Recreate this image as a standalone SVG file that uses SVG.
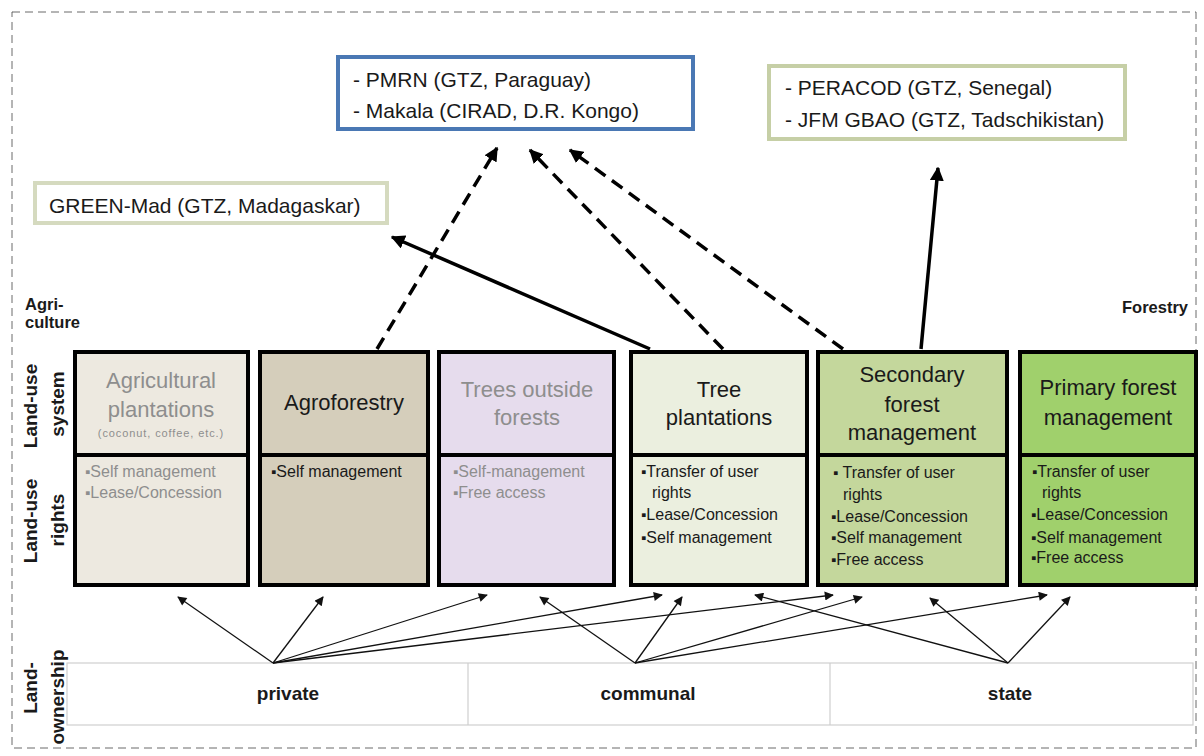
<svg xmlns="http://www.w3.org/2000/svg" width="1204" height="756" viewBox="0 0 1204 756">
<style>
text{font-family:"Liberation Sans",Arial,"DejaVu Sans",sans-serif;fill:#1a1a1a}
.box{stroke:#000;stroke-width:4}
.div{stroke:#000;stroke-width:4}
.ttl{font-size:22px;text-anchor:middle}
.gray{fill:#8e8e8e}
.r{font-size:16px}
.bl{font-size:15px}
.b{font-size:11px}
.proj{font-size:21px}
.lbl{font-size:19px;font-weight:bold;text-anchor:middle}
.sm{font-size:16.5px;font-weight:bold}
.own{font-size:19px;font-weight:bold;text-anchor:middle}
.thick{stroke:#000;stroke-width:3.5;fill:none}
.dash{stroke-dasharray:13 8}
.thin{stroke:#111;stroke-width:1.3;fill:none}
</style>
<defs>
<marker id="ah" viewBox="0 0 10 10" refX="9" refY="5" markerWidth="4" markerHeight="4" orient="auto" markerUnits="strokeWidth">
<path d="M0,0 L10,5 L0,10 z" fill="#000"/>
</marker>
<marker id="as" viewBox="0 0 10 10" refX="9" refY="5" markerWidth="9" markerHeight="7" orient="auto" markerUnits="strokeWidth">
<path d="M0,0 L10,5 L0,10 z" fill="#111"/>
</marker>
</defs>
<rect x="0" y="0" width="1204" height="756" fill="#fff"/>
<rect x="12" y="12" width="1184" height="736" fill="none" stroke="#6a6a6a" stroke-width="1" stroke-dasharray="8 5"/>

<g id="proj-pmrn">
<rect x="338" y="57" width="355" height="72" fill="#fff" stroke="#4a78b4" stroke-width="4"/>
<text class="proj" x="353" y="87">- PMRN (GTZ, Paraguay)</text>
<text class="proj" x="353" y="118">- Makala (CIRAD, D.R. Kongo)</text>
</g>
<g id="proj-peracod">
<rect x="769" y="66" width="356" height="73" fill="#fff" stroke="#c6cfa6" stroke-width="4"/>
<text class="proj" x="785" y="95">- PERACOD (GTZ, Senegal)</text>
<text class="proj" x="785" y="127">- JFM GBAO (GTZ, Tadschikistan)</text>
</g>
<g id="proj-green">
<rect x="35" y="183" width="352" height="40" fill="#fff" stroke="#d5dabf" stroke-width="4"/>
<text class="proj" x="49" y="213">GREEN-Mad (GTZ, Madagaskar)</text>
</g>

<g id="labels">
<text class="sm" x="25" y="310">Agri-</text>
<text class="sm" x="25" y="328">culture</text>
<text class="sm" x="1122" y="313">Forestry</text>
<text class="lbl" transform="translate(37,406) rotate(-90)">Land-use</text>
<text class="lbl" transform="translate(64,404) rotate(-90)">system</text>
<text class="lbl" transform="translate(37,521) rotate(-90)">Land-use</text>
<text class="lbl" transform="translate(64,520) rotate(-90)">rights</text>
<text class="lbl" transform="translate(37,688) rotate(-90)">Land-</text>
<text class="lbl" transform="translate(64,697) rotate(-90)">ownership</text>
</g>

<g id="col-agri">
<rect class="box" x="75" y="352" width="173" height="233" fill="#ede9e0"/>
<line class="div" x1="75" y1="455" x2="248" y2="455"/>
<text class="ttl gray" x="161" y="388">Agricultural</text>
<text class="ttl gray" x="161" y="417">plantations</text>
<text class="b gray" x="161" y="437" text-anchor="middle" letter-spacing="0.9">(coconut, coffee, etc.)</text>
<text class="r gray" x="85" y="477"><tspan class="bl">▪</tspan>Self management</text>
<text class="r gray" x="85" y="498"><tspan class="bl">▪</tspan>Lease/Concession</text>
</g>

<g id="col-agroforestry">
<rect class="box" x="260" y="352" width="168" height="233" fill="#d5cebb"/>
<line class="div" x1="260" y1="455" x2="428" y2="455"/>
<text class="ttl" x="344" y="410">Agroforestry</text>
<text class="r" x="271" y="477"><tspan class="bl">▪</tspan>Self management</text>
</g>

<g id="col-tof">
<rect class="box" x="439" y="352" width="175" height="233" fill="#e6dced"/>
<line class="div" x1="439" y1="455" x2="614" y2="455"/>
<text class="ttl gray" x="527" y="397">Trees outside</text>
<text class="ttl gray" x="527" y="425">forests</text>
<text class="r gray" x="453" y="477"><tspan class="bl">▪</tspan>Self-management</text>
<text class="r gray" x="453" y="498"><tspan class="bl">▪</tspan>Free access</text>
</g>

<g id="col-treeplant">
<rect class="box" x="631" y="352" width="176" height="233" fill="#ebefdf"/>
<line class="div" x1="631" y1="455" x2="807" y2="455"/>
<text class="ttl" x="719" y="397">Tree</text>
<text class="ttl" x="719" y="425">plantations</text>
<text class="r" x="641" y="477"><tspan class="bl">▪</tspan>Transfer of user</text>
<text class="r" x="652" y="498">rights</text>
<text class="r" x="641" y="520"><tspan class="bl">▪</tspan>Lease/Concession</text>
<text class="r" x="641" y="543"><tspan class="bl">▪</tspan>Self management</text>
</g>

<g id="col-secondary">
<rect class="box" x="818" y="352" width="189" height="233" fill="#c4d79c"/>
<line class="div" x1="818" y1="455" x2="1007" y2="455"/>
<text class="ttl" x="912" y="382">Secondary</text>
<text class="ttl" x="912" y="412">forest</text>
<text class="ttl" x="912" y="440">management</text>
<text class="r" x="833" y="478"><tspan class="bl">▪</tspan> Transfer of user</text>
<text class="r" x="843" y="500">rights</text>
<text class="r" x="831" y="522"><tspan class="bl">▪</tspan>Lease/Concession</text>
<text class="r" x="831" y="543"><tspan class="bl">▪</tspan>Self management</text>
<text class="r" x="831" y="565"><tspan class="bl">▪</tspan>Free access</text>
</g>

<g id="col-primary">
<rect class="box" x="1020" y="352" width="176" height="233" fill="#a0d06c"/>
<line class="div" x1="1020" y1="455" x2="1196" y2="455"/>
<text class="ttl" x="1108" y="395">Primary forest</text>
<text class="ttl" x="1108" y="425">management</text>
<text class="r" x="1032" y="477"><tspan class="bl">▪</tspan>Transfer of user</text>
<text class="r" x="1042" y="498">rights</text>
<text class="r" x="1031" y="520"><tspan class="bl">▪</tspan>Lease/Concession</text>
<text class="r" x="1031" y="543"><tspan class="bl">▪</tspan>Self management</text>
<text class="r" x="1031" y="563"><tspan class="bl">▪</tspan>Free access</text>
</g>

<g id="ownership">
<rect x="67" y="663" width="1126" height="62" fill="#fff" stroke="#cfcfcf" stroke-width="1.2"/>
<line x1="468" y1="663" x2="468" y2="725" stroke="#cfcfcf" stroke-width="1.2"/>
<line x1="830" y1="663" x2="830" y2="725" stroke="#cfcfcf" stroke-width="1.2"/>
<text class="own" x="288" y="700">private</text>
<text class="own" x="648" y="700">communal</text>
<text class="own" x="1010" y="700">state</text>
</g>

<g id="connectors">
<line class="thick dash" x1="377" y1="349" x2="497" y2="148" marker-end="url(#ah)"/>
<line class="thick dash" x1="723" y1="349" x2="530" y2="150" marker-end="url(#ah)"/>
<line class="thick dash" x1="843" y1="349" x2="570" y2="150" marker-end="url(#ah)"/>
<line class="thick" x1="650" y1="349" x2="392" y2="237" marker-end="url(#ah)"/>
<line class="thick" x1="921" y1="349" x2="938" y2="168" marker-end="url(#ah)"/>

<line class="thin" x1="273" y1="663" x2="178" y2="597" marker-end="url(#as)"/>
<line class="thin" x1="273" y1="663" x2="323" y2="597" marker-end="url(#as)"/>
<line class="thin" x1="273" y1="663" x2="487" y2="595" marker-end="url(#as)"/>
<line class="thin" x1="273" y1="663" x2="662" y2="595" marker-end="url(#as)"/>
<line class="thin" x1="273" y1="663" x2="833" y2="595" marker-end="url(#as)"/>
<line class="thin" x1="635" y1="663" x2="540" y2="597" marker-end="url(#as)"/>
<line class="thin" x1="635" y1="663" x2="682" y2="597" marker-end="url(#as)"/>
<line class="thin" x1="635" y1="663" x2="862" y2="597" marker-end="url(#as)"/>
<line class="thin" x1="635" y1="663" x2="1047" y2="595" marker-end="url(#as)"/>
<line class="thin" x1="1008" y1="663" x2="755" y2="595" marker-end="url(#as)"/>
<line class="thin" x1="1008" y1="663" x2="930" y2="598" marker-end="url(#as)"/>
<line class="thin" x1="1008" y1="663" x2="1070" y2="597" marker-end="url(#as)"/>
</g>
</svg>
